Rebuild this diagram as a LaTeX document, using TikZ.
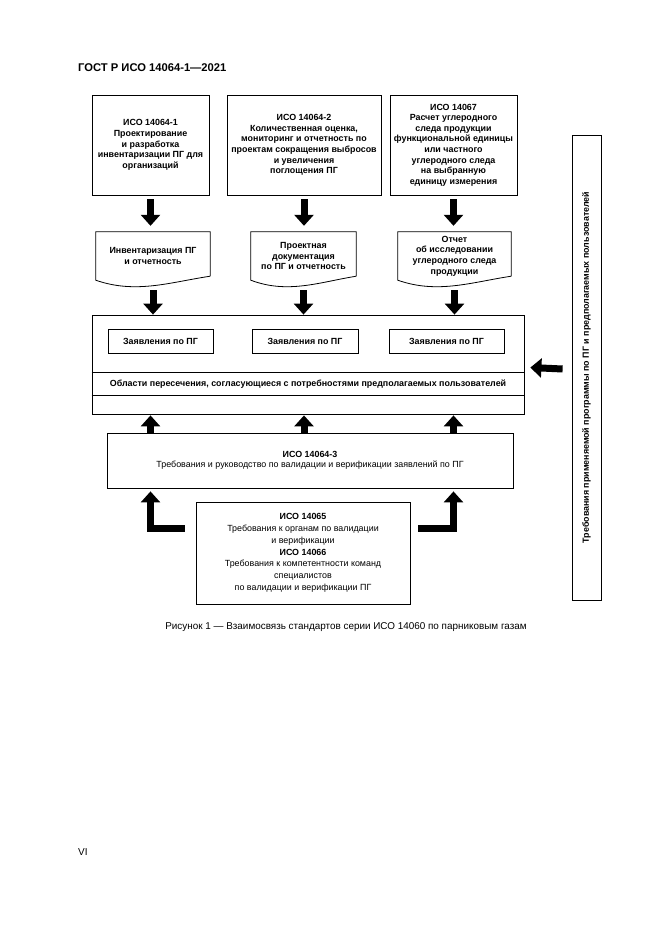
\documentclass[tikz,border=0pt]{standalone}
\usepackage{fontspec}
\setmainfont{Liberation Sans}
\usetikzlibrary{arrows.meta,calc}
\newcommand\docoutline[1]{\draw[line width=0.8pt] ([yshift=4pt]#1.south east) -- (#1.north east) -- (#1.north west) -- (#1.south west) .. controls ($(#1.south west)!0.35!(#1.south east)+(0,-14pt)$) and ($(#1.south west)!0.65!(#1.south east)+(0,-2pt)$) .. ([yshift=4pt]#1.south east);}
\begin{document}
\begin{tikzpicture}[x=1pt,y=-1pt,
  box/.style={draw, line width=0.8pt, align=center, inner sep=1pt,
    font=\bfseries\fontsize{8.9}{10.6}\selectfont},
  txt/.style={align=center, inner sep=1pt,
    font=\bfseries\fontsize{8.9}{10.6}\selectfont},
  barrow/.style={line width=7pt, line join=miter, -{Triangle[length=11pt,width=19pt]}}]
\useasboundingbox (0,0) rectangle (661,935);
\fill[white] (0,0) rectangle (661,935);

% header
\node[anchor=west, inner sep=0, font=\bfseries\fontsize{11.2}{13}\selectfont] (hdr) at (78,68) {ГОСТ Р ИСО 14064-1—2021};

% top boxes
\node[box, minimum width=117pt, minimum height=100pt] (b1) at (150.5,145)
 {ИСО 14064-1\\Проектирование\\и разработка\\инвентаризации ПГ для\\организаций};
\node[box, minimum width=154pt, minimum height=100pt] (b2) at (304,145)
 {ИСО 14064-2\\Количественная оценка,\\мониторинг и отчетность по\\проектам сокращения выбросов\\и увеличения\\поглощения ПГ};
\node[box, minimum width=127pt, minimum height=100pt] (b3) at (453.5,145)
 {ИСО 14067\\Расчет углеродного\\следа продукции\\функциональной единицы\\или частного\\углеродного следа\\на выбранную\\единицу измерения};

% documents
\node[txt, minimum width=114pt, minimum height=48pt] (d1) at (153,256)
 {Инвентаризация ПГ\\и отчетность};
\node[txt, minimum width=105pt, minimum height=48pt] (d2) at (303.5,256)
 {Проектная\\документация\\по ПГ и отчетность};
\node[txt, minimum width=113pt, minimum height=48pt] (d3) at (454.5,256)
 {Отчет\\об исследовании\\углеродного следа\\продукции};
\docoutline{d1}
\docoutline{d2}
\docoutline{d3}

% big box
\node[draw, line width=0.8pt, minimum width=432pt, minimum height=99pt, inner sep=0] (big) at (308,364.5) {};
\draw[line width=0.8pt] ([yshift=-58pt]big.north west) -- ([yshift=-58pt]big.north east);
\draw[line width=0.8pt] ([yshift=-81pt]big.north west) -- ([yshift=-81pt]big.north east);
\node[box, minimum width=105pt, minimum height=24pt] (i1) at (160.5,341) {Заявления по ПГ};
\node[box, minimum width=106pt, minimum height=24pt] (i2) at (305,341) {Заявления по ПГ};
\node[box, minimum width=115pt, minimum height=24pt] (i3) at (446.5,341) {Заявления по ПГ};
\node[txt] (strip) at (308,384.5) {Области пересечения, согласующиеся с потребностями предполагаемых пользователей};

% validation box
\node[draw, line width=0.8pt, minimum width=406pt, minimum height=55pt, align=center, inner sep=1pt, font=\fontsize{8.9}{10.6}\selectfont] (v) at (310,460.5)
 {\textbf{ИСО 14064-3}\\Требования и руководство по валидации и верификации заявлений по ПГ};

% bottom box
\node[draw, line width=0.8pt, minimum width=214pt, minimum height=102pt, align=center, inner sep=1pt, font=\fontsize{8.9}{11.8}\selectfont] (bot) at (303,553)
 {\textbf{ИСО 14065}\\Требования к органам по валидации\\и верификации\\\textbf{ИСО 14066}\\Требования к компетентности команд\\специалистов\\по валидации и верификации ПГ};

% right tall box
\node[draw, line width=0.8pt, minimum width=465pt, minimum height=29pt, rotate=90, inner sep=1pt, font=\bfseries\fontsize{8.9}{10}\selectfont] (r) at (586.5,367.5)
 {Требования применяемой программы по ПГ и предполагаемых пользователей};

% arrows top boxes -> documents
\draw[barrow] ([yshift=-4pt]b1.south) -- ([yshift=6pt]b1.south |- d1.north);
\draw[barrow] ([yshift=-4pt]b2.south) -- ([yshift=6pt]b2.south |- d2.north);
\draw[barrow] ([yshift=-4pt]b3.south) -- ([yshift=6pt]b3.south |- d3.north);
% documents -> big box
\draw[barrow] ([yshift=-10pt]d1.south) -- (d1.south |- big.north);
\draw[barrow] ([yshift=-10pt]d2.south) -- (d2.south |- big.north);
\draw[barrow] ([yshift=-10pt]d3.south) -- (d3.south |- big.north);
% validation -> big box
\draw[barrow] (b1.south |- v.north) -- ([yshift=-1pt]b1.south |- big.south);
\draw[barrow] (b2.south |- v.north) -- ([yshift=-1pt]b2.south |- big.south);
\draw[barrow] (b3.south |- v.north) -- ([yshift=-1pt]b3.south |- big.south);
% bottom box -> validation (L arrows)
\draw[barrow] ([xshift=-11pt,yshift=25pt]bot.west) -| ([yshift=-3pt]b1.south |- v.south);
\draw[barrow] ([xshift=8pt,yshift=25pt]bot.east) -| ([yshift=-3pt]b3.south |- v.south);
% right box -> big box
\draw[barrow] ([xshift=-9pt,yshift=-1.5pt]r.north) -- ([xshift=6pt]big.east |- r.north);

% caption and page number
\node[inner sep=0, font=\fontsize{9.9}{12}\selectfont] (cap) at (346,627) {Рисунок 1 — Взаимосвязь стандартов серии ИСО 14060 по парниковым газам};
\node[anchor=west, inner sep=0, font=\fontsize{10}{12}\selectfont] (pg) at (78,852) {VI};
\end{tikzpicture}
\end{document}
